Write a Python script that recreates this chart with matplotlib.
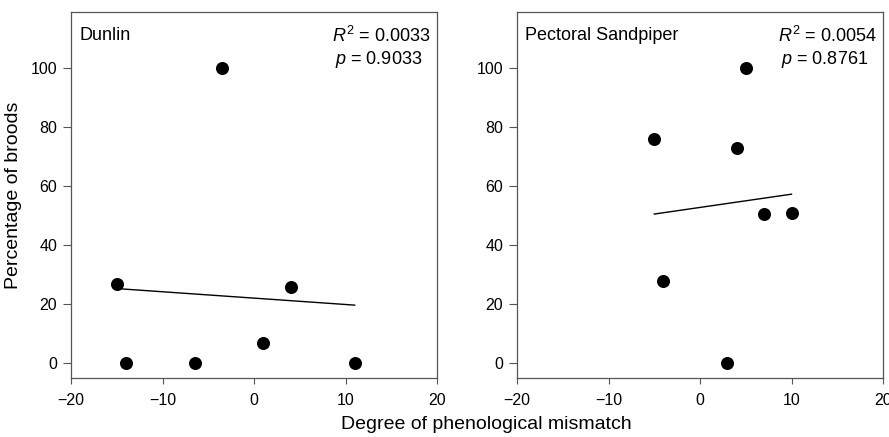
import numpy as np
import matplotlib
matplotlib.use("Agg")
import matplotlib.pyplot as plt

plt.rcParams['font.family'] = ['Liberation Sans', 'DejaVu Sans']
plt.rcParams['mathtext.fontset'] = 'custom'
plt.rcParams['mathtext.rm'] = 'Liberation Sans'
plt.rcParams['mathtext.it'] = 'Liberation Sans:italic'

# Data
dunlin_x = [-15, -14, -6.5, -3.5, 1, 4, 11]
dunlin_y = [26.7, 0, 0, 100, 6.7, 26, 0]
pec_x = [-5, -4, 3, 4, 5, 7, 10]
pec_y = [76, 28, 0, 73, 100, 50.5, 51]
titles = ["Dunlin", "Pectoral Sandpiper"]
r2_labels = ["0.0033", "0.0054"]
p_labels = ["0.9033", "0.8761"]
xticks = [-20, -10, 0, 10, 20]
yticks = [0, 20, 40, 60, 80, 100]

fig = plt.figure(figsize=(8.89, 4.37), dpi=100)
W, H = 889, 437
positions = [(71, 12, 437, 378), (517, 12, 883, 378)]
datasets = [(dunlin_x, dunlin_y), (pec_x, pec_y)]
spine_col = '#555555'

for i, ((l, t, r, b), (xs, ys)) in enumerate(zip(positions, datasets)):
    ax = fig.add_axes([l / W, (H - b) / H, (r - l) / W, (b - t) / H])
    ax.scatter(xs, ys, s=70, color='black', zorder=3)
    xs_a = np.array(xs, dtype=float)
    ys_a = np.array(ys, dtype=float)
    slope, inter = np.polyfit(xs_a, ys_a, 1)
    xl = np.array([xs_a.min(), xs_a.max()])
    ax.plot(xl, slope * xl + inter, color='black', lw=1.0)
    ax.set_xlim(-20, 20)
    ax.set_ylim(-5, 119)
    ax.set_xticks(xticks)
    ax.set_yticks(yticks)
    ax.tick_params(axis='x', direction='out', length=4, width=0.8, color=spine_col,
                   labelsize=11.5, pad=7)
    ax.tick_params(axis='y', direction='out', length=6, width=0.8, color=spine_col,
                   labelsize=11.5, pad=4)
    for sp in ax.spines.values():
        sp.set_color(spine_col)
        sp.set_linewidth(0.9)
    ax.text(0.022, 0.935, titles[i], transform=ax.transAxes, fontsize=13,
            ha='left', va='center')
    ax.text(0.983, 0.935, r"$R^2$ = " + r2_labels[i], transform=ax.transAxes,
            fontsize=13, ha='right', va='center')
    ax.text(0.96, 0.87, r"$p$ = " + p_labels[i], transform=ax.transAxes,
            fontsize=13, ha='right', va='center')
    if i == 0:
        ax.set_ylabel("Percentage of broods", fontsize=14, labelpad=6)

fig.text(0.547, 0.01, "Degree of phenological mismatch", fontsize=14,
         ha='center', va='bottom')

fig.savefig("out.png", dpi=100)
